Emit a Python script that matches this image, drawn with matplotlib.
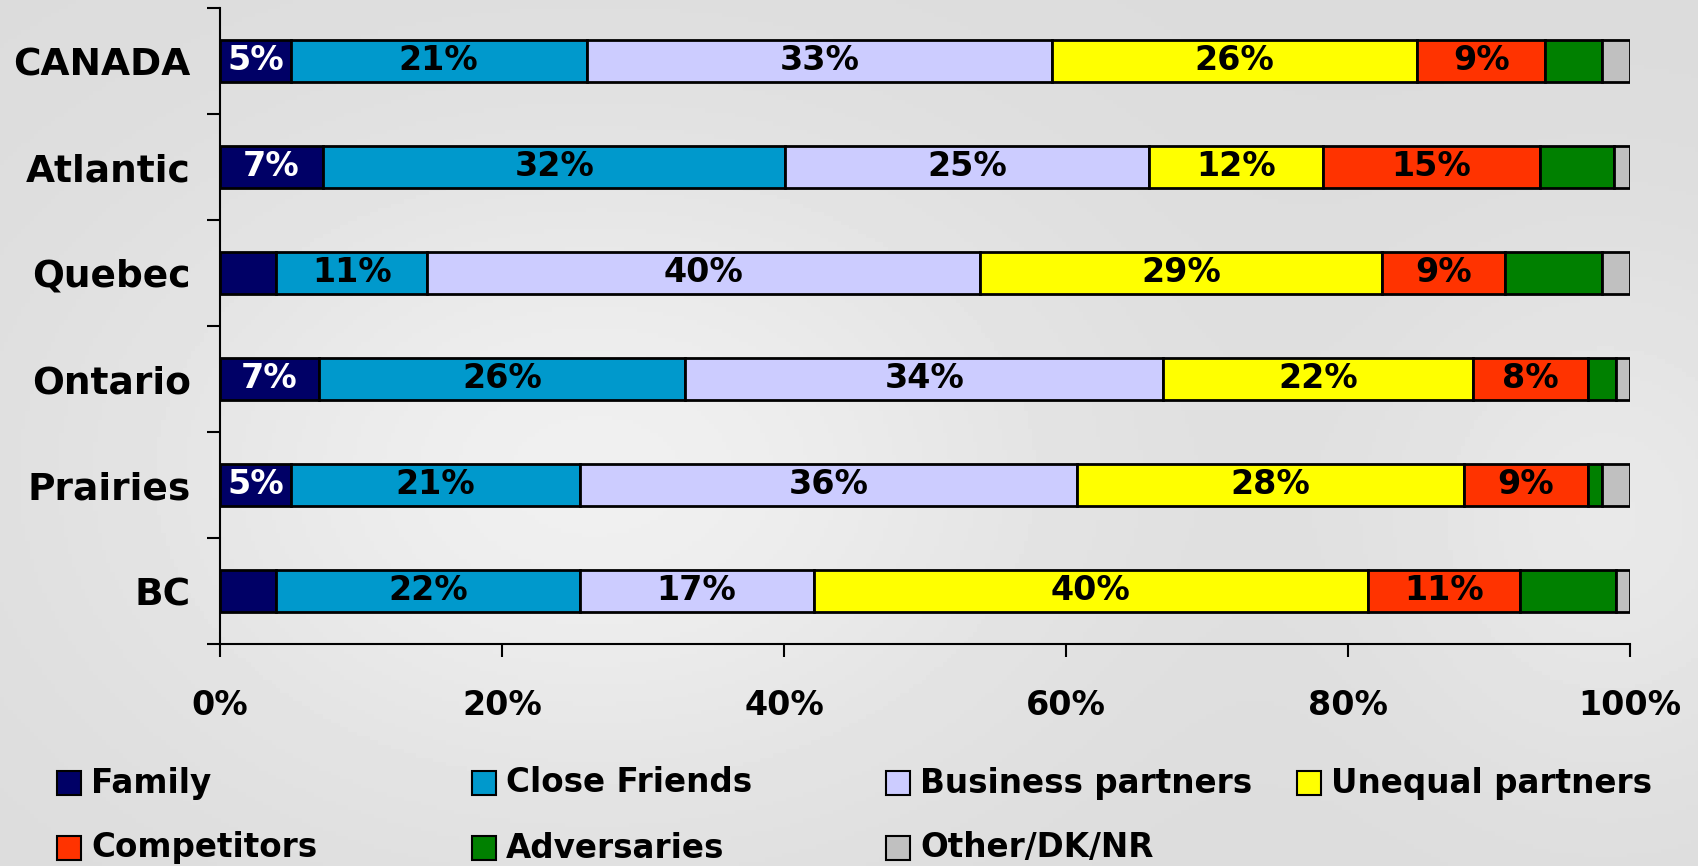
import matplotlib.pyplot as plt
import numpy as np
from matplotlib.patches import Rectangle

# Share of respondents per region (in %)
regions = ["CANADA", "Atlantic", "Quebec", "Ontario", "Prairies", "BC"]
family = [5.0, 7.3, 4.0, 7.0, 5.0, 4.0]
close_friends = [21.0, 32.8, 10.7, 26.0, 20.5, 21.5]
business_partners = [33.0, 25.8, 39.2, 33.9, 35.3, 16.6]
unequal_partners = [25.9, 12.3, 28.5, 22.0, 27.4, 39.3]
competitors = [9.1, 15.4, 8.7, 8.1, 8.8, 10.8]
adversaries = [4.0, 5.3, 6.9, 2.0, 1.0, 6.8]
other = [2.0, 1.1, 2.0, 1.0, 2.0, 1.0]

# Printed labels inside the segments ("" = no label shown)
family_labels = ["5%", "7%", "", "7%", "5%", ""]
close_friends_labels = ["21%", "32%", "11%", "26%", "21%", "22%"]
business_labels = ["33%", "25%", "40%", "34%", "36%", "17%"]
unequal_labels = ["26%", "12%", "29%", "22%", "28%", "40%"]
competitors_labels = ["9%", "15%", "9%", "8%", "9%", "11%"]

series_names = ["Family", "Close Friends", "Business partners", "Unequal partners",
                "Competitors", "Adversaries", "Other/DK/NR"]
series_values = [family, close_friends, business_partners, unequal_partners,
                 competitors, adversaries, other]
series_labels = [family_labels, close_friends_labels, business_labels, unequal_labels,
                 competitors_labels, None, None]
colors = ["#000066", "#0099CC", "#CCCCFF", "#FFFF00", "#FF3300", "#008000", "#C0C0C0"]
label_colors = ["white", "black", "black", "black", "black", "black", "black"]

W, H = 1699, 866
fig = plt.figure(figsize=(W / 100, H / 100), dpi=100)
fig.patch.set_facecolor("#e6e6e6")

# soft grey backdrop
bg = fig.add_axes([0, 0, 1, 1], zorder=-10)
yy, xx = np.mgrid[0:1:200j, 0:1:400j]
shade = 0.86 + 0.08 * np.exp(-((xx - 0.35) ** 2 / 0.08 + (yy - 0.55) ** 2 / 0.15)) \
    + 0.05 * np.exp(-((xx - 0.95) ** 2 / 0.02 + (yy - 0.6) ** 2 / 0.1))
bg.imshow(shade, cmap="gray", vmin=0, vmax=1, aspect="auto", extent=[0, 1, 0, 1])
bg.axis("off")

ax = fig.add_axes([220 / W, 1 - 644 / H, 1410 / W, 636 / H])
ax.set_facecolor("none")

y = np.arange(len(regions))
left = np.zeros(len(regions))
for name, vals, labs, col, lcol in zip(series_names, series_values, series_labels,
                                        colors, label_colors):
    bars = ax.barh(y, vals, left=left, height=0.4, color=col, edgecolor="black",
                   linewidth=2, label=name)
    if labs is not None:
        ax.bar_label(bars, labels=labs, label_type="center", color=lcol,
                     fontsize=24, fontweight="bold")
    left += np.array(vals)

ax.set_xlim(0, 100)
ax.set_ylim(len(regions) - 0.5, -0.5)
ax.set_xticks(np.arange(0, 101, 20))
ax.set_xticklabels([f"{v}%" for v in range(0, 101, 20)], fontsize=24, fontweight="bold")
ax.set_yticks(y)
ax.set_yticklabels(regions, fontsize=27, fontweight="bold")
ax.set_yticks(np.arange(-0.5, len(regions), 1), minor=True)

ax.tick_params(axis="y", which="major", length=0, pad=21)
ax.tick_params(axis="y", which="minor", length=9.5, width=1.5, direction="out")
ax.tick_params(axis="x", which="major", length=9.5, width=1.5, direction="out", pad=23)
for side in ["top", "right"]:
    ax.spines[side].set_visible(False)
for side in ["left", "bottom"]:
    ax.spines[side].set_linewidth(1.5)

# legend laid out like the slide: 4 evenly spaced columns, 2 rows
col_x = [57, 472, 886, 1297]
row_y = [783, 848]
for i, (name, col) in enumerate(zip(series_names, colors)):
    r, c = divmod(i, 4)
    x0, yc = col_x[c], row_y[r]
    fig.add_artist(Rectangle((x0 / W, 1 - (yc + 12) / H), 24 / W, 24 / H,
                             transform=fig.transFigure, facecolor=col,
                             edgecolor="black", linewidth=1.5))
    fig.text((x0 + 34) / W, 1 - yc / H, name, fontsize=23.5, fontweight="bold",
             va="center", ha="left")

fig.savefig("out.png", dpi=100, facecolor=fig.get_facecolor())
